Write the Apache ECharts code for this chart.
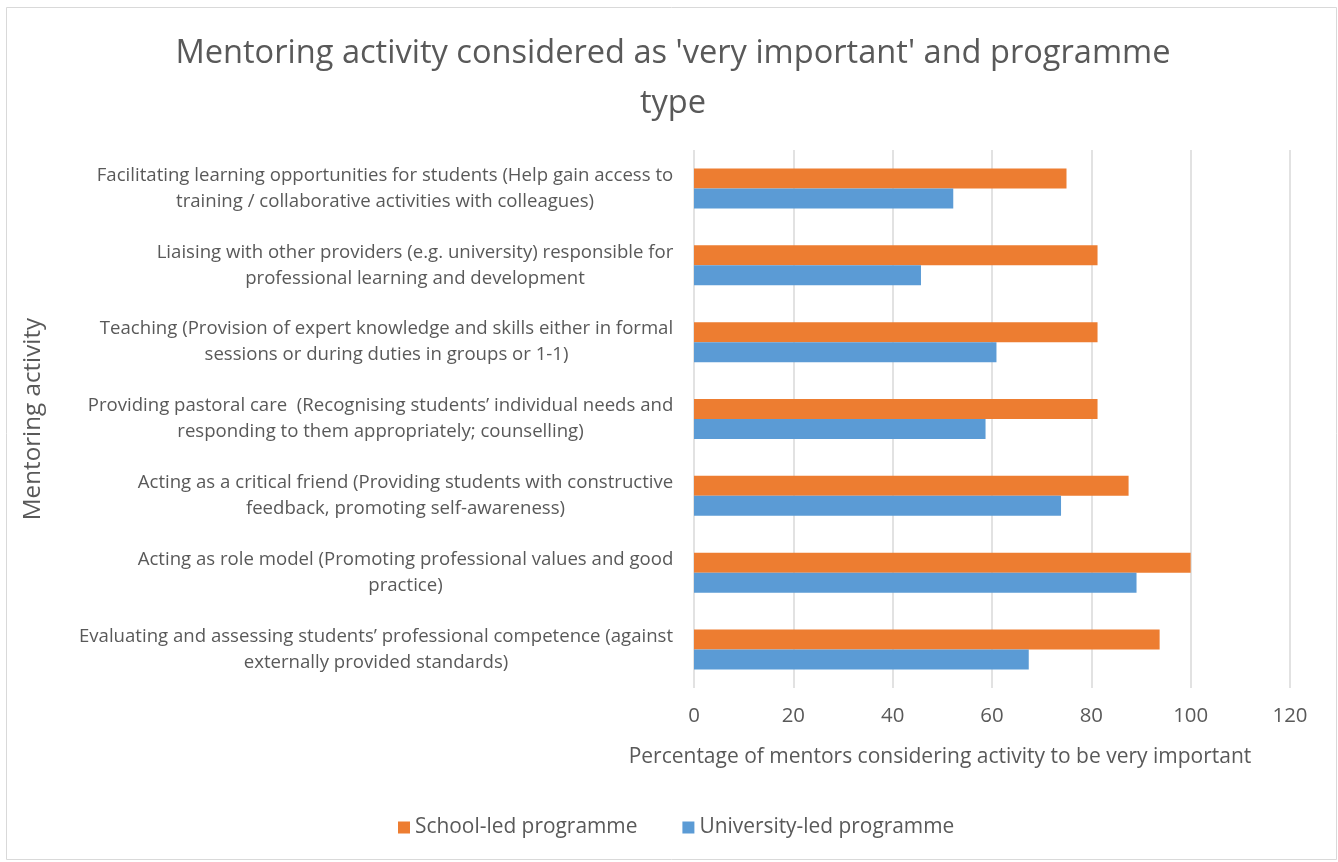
<!DOCTYPE html>
<html>
<head>
<meta charset="utf-8">
<script src="https://cdn.jsdelivr.net/npm/echarts@6/dist/echarts.min.js"></script>
<style>
html,body{margin:0;padding:0;background:#fff;}
#c{width:1338px;height:862px;}
</style>
</head>
<body>
<div id="c"></div>
<script>
const categories = [
  "Facilitating learning opportunities for students (Help gain access to\ntraining / collaborative activities with colleagues)",
  "Liaising with other providers (e.g. university) responsible for\nprofessional learning and development",
  "Teaching (Provision of expert knowledge and skills either in formal\nsessions or during duties in groups or 1-1)",
  "Providing pastoral care  (Recognising students’ individual needs and\nresponding to them appropriately; counselling)",
  "Acting as a critical friend (Providing students with constructive\nfeedback, promoting self-awareness)",
  "Acting as role model (Promoting professional values and good\npractice)",
  "Evaluating and assessing students’ professional competence (against\nexternally provided standards)"
];
const schoolLed = [75.0, 81.25, 81.25, 81.25, 87.5, 100.0, 93.75];
const universityLed = [52.2, 45.7, 60.9, 58.7, 73.9, 89.1, 67.4];
const seriesNames = ["School-led programme", "University-led programme"];
const xTicks = { min: 0, max: 120, interval: 20 };
const titleText = "Mentoring activity considered as 'very important' and programme\ntype";
const xAxisName = "Percentage of mentors considering activity to be very important";
const yAxisName = "Mentoring activity";

const FONT = "'Open Sans', sans-serif";
const TXT = '#595959';
const cvs = document.createElement('canvas').getContext('2d');
function measure(text, size) { cvs.font = size + 'px ' + FONT; return cvs.measureText(text).width; }
function fit(text, target) { return Math.round(target / measure(text, 100) * 100 * 10) / 10; }

const labelSize = fit("Facilitating learning opportunities for students (Help gain access to", 577);
const titleSize = fit("Mentoring activity considered as 'very important' and programme", 995);
const xNameSize = fit(xAxisName, 622);
const legendSize = fit("School-led programme", 223);
const yNameSize = fit(yAxisName, 202);
const tickSize = fit("100", 35);

const rich = {};
categories.forEach((c, i) => {
  const w = Math.max(...c.split('\n').map(l => measure(l, labelSize)));
  rich['c' + i] = { width: Math.ceil(w) + 1, align: 'center', fontSize: labelSize, fontFamily: FONT, color: TXT, lineHeight: Math.round(labelSize * 1.42) };
});

const chart = echarts.init(document.getElementById('c'), null, { renderer: 'canvas' });
chart.setOption({
  backgroundColor: '#fff',
  animation: false,
  textStyle: { fontFamily: FONT },
  graphic: [{ type: 'rect', shape: { x: 6.5, y: 7.5, width: 1330, height: 852 }, style: { fill: 'none', stroke: '#d9d9d9', lineWidth: 1 }, silent: true, z: -1 }],
  title: {
    text: titleText,
    left: 668,
    top: 24,
    textAlign: 'center',
    textStyle: { fontFamily: FONT, fontSize: titleSize, fontWeight: 'normal', color: TXT, lineHeight: 50, align: 'center' }
  },
  legend: {
    bottom: 19,
    left: 393,
    icon: 'rect',
    itemWidth: 12,
    itemHeight: 12,
    itemGap: 45,
    textStyle: { fontFamily: FONT, fontSize: legendSize, color: TXT },
    data: seriesNames
  },
  grid: { left: 694, right: 48, top: 150, bottom: 174, containLabel: false },
  xAxis: {
    type: 'value',
    min: xTicks.min, max: xTicks.max, interval: xTicks.interval,
    axisLine: { show: false },
    axisTick: { show: false },
    splitLine: { show: true, lineStyle: { color: '#d9d9d9', width: 1.5 } },
    axisLabel: { fontFamily: FONT, fontSize: tickSize, color: TXT, margin: 18 },
    name: xAxisName,
    nameLocation: 'middle',
    nameGap: 59,
    nameTextStyle: { fontFamily: FONT, fontSize: xNameSize, color: TXT, padding: [0, 104, 0, 0] }
  },
  yAxis: {
    type: 'category',
    inverse: true,
    data: categories,
    axisLine: { show: false },
    axisTick: { show: false },
    axisLabel: {
      margin: 20,
      formatter: (v, i) => v.split('\n').map(l => '{c' + i + '|' + l + '}').join('\n'),
      rich: rich
    },
    name: yAxisName,
    nameLocation: 'middle',
    nameRotate: 90,
    nameGap: 649,
    nameTextStyle: { fontFamily: FONT, fontSize: yNameSize, color: TXT }
  },
  series: [
    { name: seriesNames[0], type: 'bar', data: schoolLed, barGap: '0%', barCategoryGap: '48%', itemStyle: { color: '#ED7D31' } },
    { name: seriesNames[1], type: 'bar', data: universityLed, barGap: '0%', barCategoryGap: '48%', itemStyle: { color: '#5B9BD5' } }
  ]
});
</script>
</body>
</html>
